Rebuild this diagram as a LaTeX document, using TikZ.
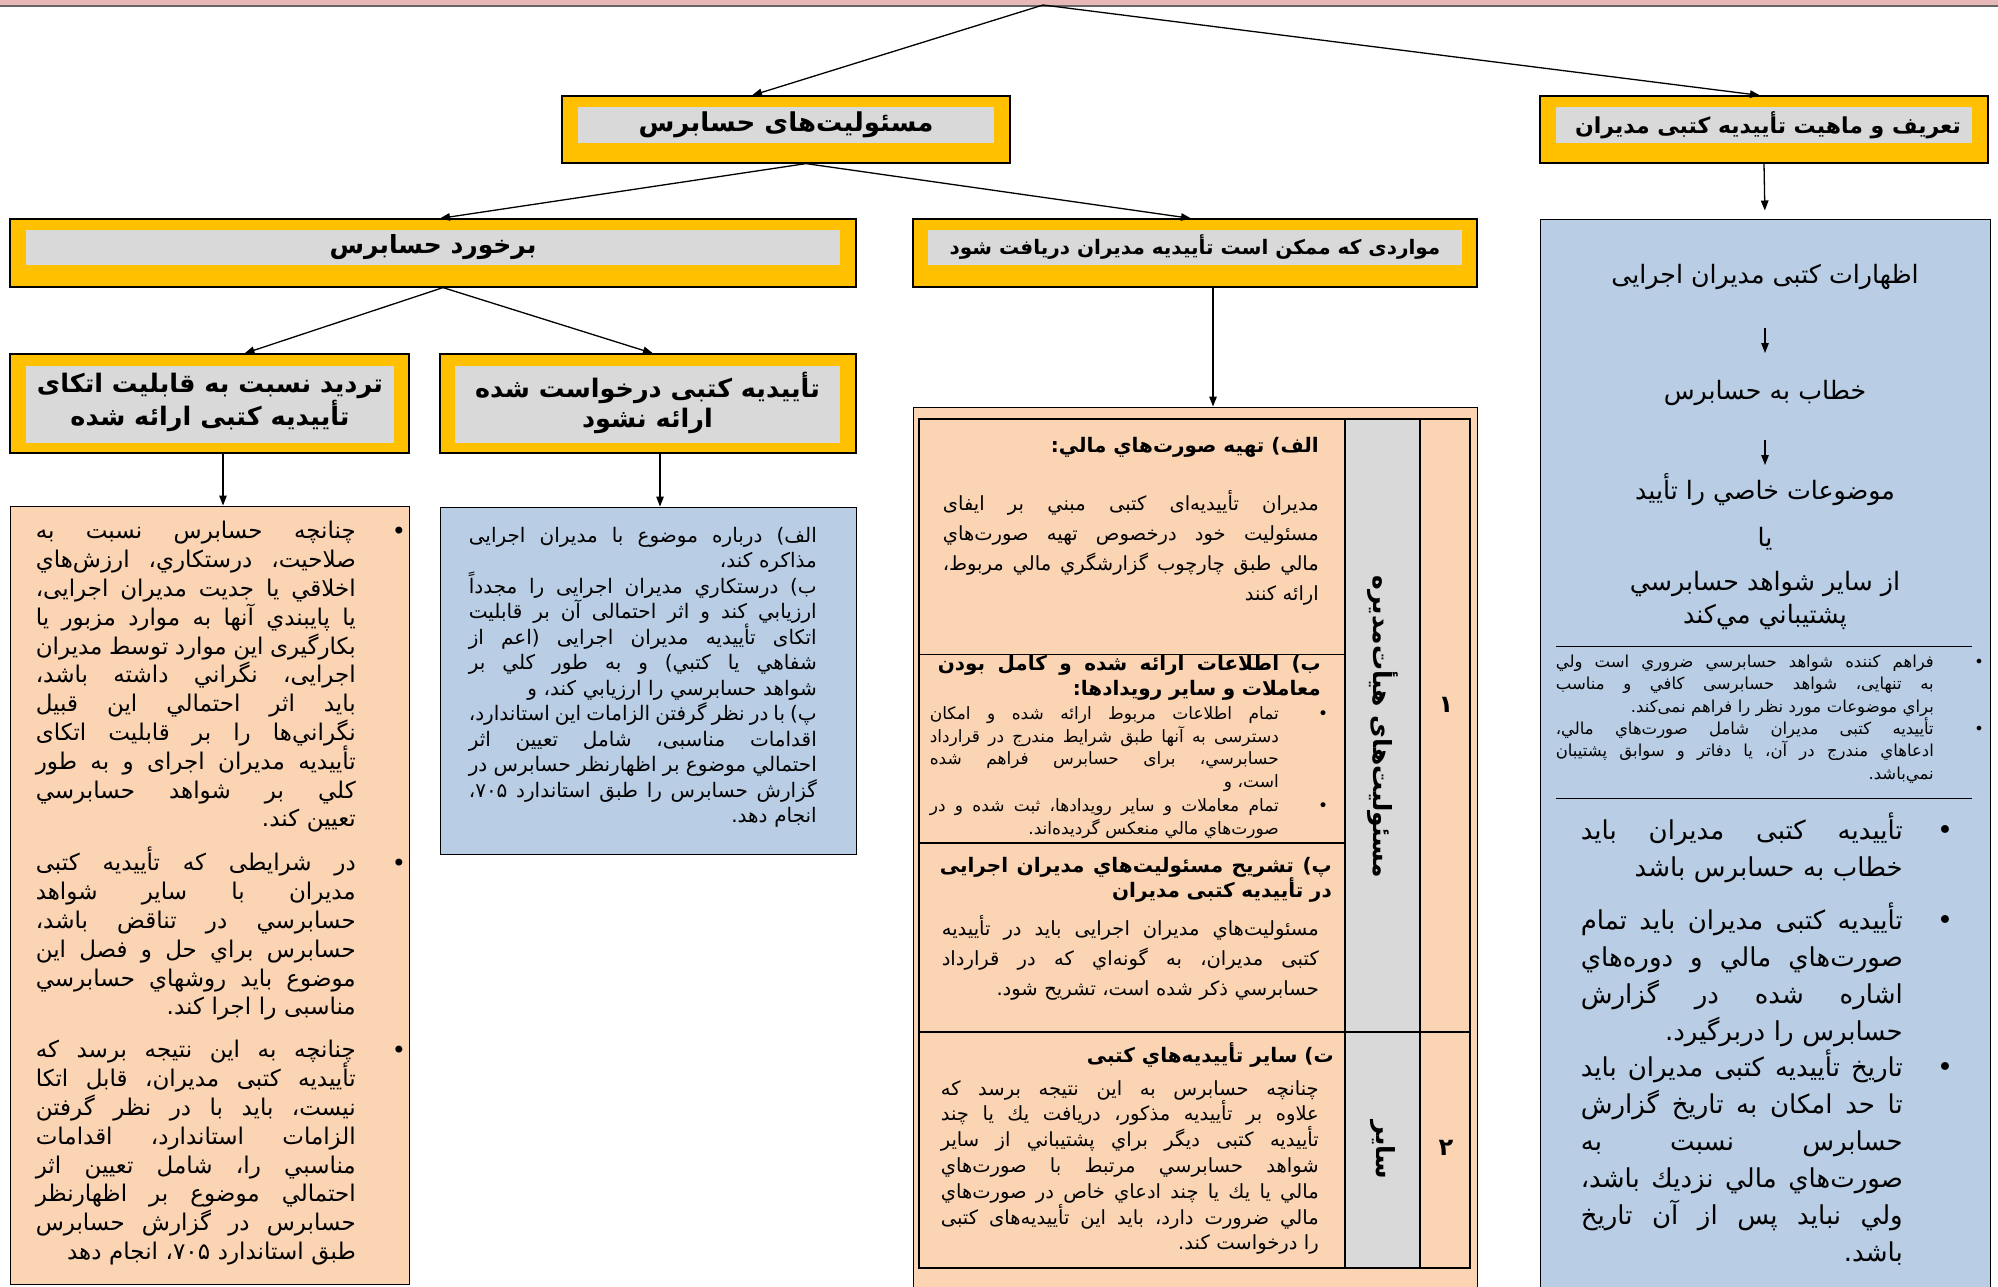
\documentclass[tikz,border=0pt]{standalone}
\usepackage{fontspec}
\setmainfont{DejaVu Sans}
\newfontfamily\fa[Script=Arabic]{DejaVu Sans}
\TeXXeTstate=1
\usetikzlibrary{arrows.meta}
\definecolor{yel}{HTML}{FFC000}
\definecolor{gry}{HTML}{D9D9D9}
\definecolor{blu}{HTML}{B9CDE5}
\definecolor{pch}{HTML}{FBD4B4}
\definecolor{pnk}{HTML}{E6B9B8}
\newcommand\R[1]{\beginR#1\endR}
\newcommand\JL[1]{\hbox to\hsize{\rule{0pt}{1.05em}\spaceskip=0.318em plus 6em minus 0.16em\relax\beginR#1\endR}}
\newcommand\LL[1]{\hbox to\hsize{\rule{0pt}{1.05em}\hfill\beginR#1\endR}}
\newcommand\PS{\lineskiplimit=-100pt\lineskip=0pt\hbadness=10000\hfuzz=100pt}
\newcommand\fs[2]{\fontsize{#1}{#2}\selectfont}
\newcommand\PB[1]{\vbox{\PS#1}}
\tikzset{
 ybox/.style={draw=black, line width=1.2pt, fill=yel, inner sep=0pt},
 gbox/.style={fill=gry, inner sep=0pt, draw=none},
 ttl/.style={inner sep=0pt, align=center},
 arr/.style={-{Triangle[length=10pt,width=7.5pt]}, line width=1.3pt},
 para/.style={inner sep=0pt, anchor=north east, text width=#1},
 pbox/.style={draw=black, line width=1pt, fill=pch, inner sep=0pt},
 bbox/.style={draw=black, line width=1pt, fill=blu, inner sep=0pt},
 bul/.style={inner sep=0pt, font=\fa\fs{24}{26}},
 tline/.style={line width=1.1pt, draw=black},
}
\begin{document}
\begin{tikzpicture}[x=1pt,y=-1pt]
\useasboundingbox (0,0) rectangle (1998,1286);
\fill[white] (0,0) rectangle (1998,1286);
% top bar
\fill[pnk] (0,0) rectangle (1998,6);
\draw[line width=1.5pt, black!60] (0,6) -- (1998,6);
\coordinate (top) at (1043,5);

% title boxes
\node[ybox, minimum width=448pt, minimum height=67pt] (b1) at (786,129.5) {};
\node[gbox, minimum width=416pt, minimum height=36pt] (b1i) at (786,125) {};
\node[ttl, font=\fa\bfseries\fs{26}{30}] (b1t) at (b1i) {\R{مسئولیت‌های حسابرس}};

\node[ybox, minimum width=448pt, minimum height=67pt] (b2) at (1764,129.5) {};
\node[gbox, minimum width=416pt, minimum height=36pt] (b2i) at (1764,125) {};
\node[ttl, font=\fa\bfseries\fs{22}{26}] (b2t) at ([xshift=4pt]b2i.center) {\R{تعریف و ماهیت تأییدیه کتبی مدیران}};

\node[ybox, minimum width=846pt, minimum height=68pt] (b3) at (433,253) {};
\node[gbox, minimum width=814pt, minimum height=35pt] (b3i) at (433,247.5) {};
\node[ttl, font=\fa\bfseries\fs{25}{29}] (b3t) at (b3i) {\R{برخورد حسابرس}};

\node[ybox, minimum width=564pt, minimum height=68pt] (b4) at (1195,253) {};
\node[gbox, minimum width=534pt, minimum height=35pt] (b4i) at (1195,247.5) {};
\node[ttl, font=\fa\bfseries\fs{20}{24}] (b4t) at (b4i) {\R{مواردی که ممکن است تأییدیه مدیران دریافت شود}};

\node[ybox, minimum width=399pt, minimum height=99pt] (b5) at (209.5,403.5) {};
\node[gbox, minimum width=368pt, minimum height=77pt] (b5i) at (210,404.5) {};
\node[ttl, font=\fa\bfseries\fs{25.5}{30}] (b5t) at ([yshift=2pt]b5i.center) {\R{تردید نسبت به قابلیت اتکای}\\\R{تأییدیه کتبی ارائه شده}};

\node[ybox, minimum width=416pt, minimum height=99pt] (b6) at (648,403.5) {};
\node[gbox, minimum width=385pt, minimum height=77pt] (b6i) at (647.5,404.5) {};
\node[ttl, font=\fa\bfseries\fs{25.5}{30}] (b6t) at ([yshift=2pt]b6i.center) {\R{تأییدیه کتبی درخواست شده}\\\R{ارائه نشود}};

% content containers
\node[pbox, minimum width=399pt, minimum height=778pt] (lp) at (209.5,895) {};
\node[bbox, minimum width=416pt, minimum height=347pt] (mb) at (648,680.5) {};
\node[pbox, minimum width=564pt, minimum height=893pt] (mt) at (1195,853.5) {};
\node[bbox, minimum width=450pt, minimum height=1075pt] (rb) at (1765,756.5) {};

% connectors
\draw[arr] (top) -- ([xshift=-34pt]b1.north);
\draw[arr] (top) -- ([xshift=-4pt]b2.north);
\draw[arr] ([xshift=20pt]b1.south) -- ([xshift=7pt]b3.north);
\draw[arr] ([xshift=20pt]b1.south) -- ([xshift=-4pt]b4.north);
\draw[arr] ([xshift=10pt]b3.south) -- ([xshift=35pt]b5.north);
\draw[arr] ([xshift=10pt]b3.south) -- ([xshift=5pt]b6.north);
\draw[arr, shorten >=8pt] (b2.south) -- (rb.north);
\draw[arr] ([xshift=13.5pt]b5.south) -- ([xshift=13.5pt]lp.north);
\draw[arr] ([xshift=12pt]b6.south) -- ([xshift=12pt]mb.north);
\draw[arr] ([xshift=18pt]b4.south) -- ([xshift=18pt]mt.north);

% left peach text
\node[bul] (lb1) at (399,533) {•};
\node[para=320pt, font=\fa\fs{23}{28.8}] (lt1) at (356,514.6) {\PB{\JL{چنانچه حسابرس نسبت به}\JL{صلاحیت، درستکاري، ارزش‌هاي}\JL{اخلاقي يا جدیت مدیران اجرایی،}\JL{يا پایبندي آنها به موارد مزبور يا}\JL{بکارگیری این موارد توسط مدیران}\JL{اجرایی، نگراني داشته باشد،}\JL{باید اثر احتمالي این قبیل}\JL{نگراني‌ها را بر قابلیت اتکای}\JL{تأییدیه مدیران اجرای و به طور}\JL{کلي بر شواهد حسابرسي}\LL{تعیین کند.}}};
\node[bul] (lb2) at (399,865) {•};
\node[para=320pt, font=\fa\fs{23}{28.8}] (lt2) at (356,846.6) {\PB{\JL{در شرایطی که تأییدیه کتبی}\JL{مدیران با سایر شواهد}\JL{حسابرسي در تناقض باشد،}\JL{حسابرس براي حل و فصل این}\JL{موضوع باید روشهاي حسابرسي}\LL{مناسبی را اجرا کند.}}};
\node[bul] (lb3) at (399,1052) {•};
\node[para=320pt, font=\fa\fs{23}{28.8}] (lt3) at (356,1033.6) {\PB{\JL{چنانچه به این نتیجه برسد که}\JL{تأییدیه کتبی مدیران، قابل اتکا}\JL{نیست، باید با در نظر گرفتن}\JL{الزامات استاندارد، اقدامات}\JL{مناسبي را، شامل تعیین اثر}\JL{احتمالي موضوع بر اظهارنظر}\JL{حسابرس در گزارش حسابرس}\LL{طبق استاندارد ۷۰۵، انجام دهد}}};

% middle blue text
\node[para=348pt, font=\fa\fs{20}{25.5}] (mbt) at (817,521) {\PB{\JL{الف) درباره موضوع با مدیران اجرایی}\LL{مذاکره کند،}\JL{ب) درستکاري مدیران اجرایی را مجدداً}\JL{ارزيابي کند و اثر احتمالی آن بر قابلیت}\JL{اتکای تأییدیه مدیران اجرایی (اعم از}\JL{شفاهي يا کتبي) و به طور کلي بر}\LL{شواهد حسابرسي را ارزيابي کند، و}\JL{پ) با در نظر گرفتن الزامات این استاندارد،}\JL{اقدامات مناسبی، شامل تعیین اثر}\JL{احتمالي موضوع بر اظهارنظر حسابرس در}\JL{گزارش حسابرس را طبق استاندارد ۷۰۵،}\LL{انجام دهد.}}};

% middle table
\fill[pch] (919,419) rectangle (1470,1268);
\fill[gry] (1345,419) rectangle (1420,1268);
\draw[tline] (919,419) rectangle (1470,1268);
\draw[tline] (1345,419) -- (1345,1268);
\draw[tline] (1420,419) -- (1420,1268);
\draw[tline] (919,1032) -- (1470,1032);
\draw[line width=0.8pt] (919,654) -- (1345,654);
\draw[tline] (919,843) -- (1345,843);

\node[inner sep=0pt, anchor=east, font=\fa\bfseries\fs{20}{24}] (h1) at (1319,447) {\R{الف) تهیه صورت‌هاي مالي:}};
\node[para=376pt, font=\fa\fs{19.5}{30}] (t1) at (1319,489.4) {\PB{\JL{مدیران تأییدیه‌ای کتبی مبني بر ایفای}\JL{مسئولیت خود درخصوص تهیه صورت‌هاي}\JL{مالي طبق چارچوب گزارشگري مالي مربوط،}\LL{ارائه کنند}}};

\begin{scope}
\clip (919,654.5) rectangle (1345,843);
\node[para=383pt, font=\fa\bfseries\fs{20}{25}] (h2) at (1321,649) {\PB{\JL{ب) اطلاعات ارائه شده و کامل بودن}\LL{معاملات و سایر رویدادها:}}};
\end{scope}
\node[bul, font=\fa\fs{17}{18}] (tb1) at (1323,715) {•};
\node[para=349pt, font=\fa\fs{17}{22.7}] (t2a) at (1279,701.4) {\PB{\JL{تمام اطلاعات مربوط ارائه شده و امکان}\JL{دسترسی به آنها طبق شرایط مندرج در قرارداد}\JL{حسابرسي، برای حسابرس فراهم شده}\LL{است،  و}}};
\node[bul, font=\fa\fs{17}{18}] (tb2) at (1323,807) {•};
\node[para=349pt, font=\fa\fs{17}{22.7}] (t2b) at (1279,793.4) {\PB{\JL{تمام معاملات و سایر رویدادها، ثبت شده و در}\LL{صورت‌هاي مالي منعکس گردیده‌اند.}}};

\node[para=392pt, font=\fa\bfseries\fs{20}{25}] (h3) at (1332,851) {\PB{\JL{پ) تشریح مسئولیت‌هاي مدیران اجرایی}\LL{در تأییدیه کتبی مدیران}}};
\node[para=377pt, font=\fa\fs{19.5}{30}] (t3) at (1319,914.4) {\PB{\JL{مسئولیت‌هاي مدیران اجرایی باید در تأییدیه}\JL{کتبی مدیران، به گونه‌اي که در قرارداد}\LL{حسابرسي ذکر شده است، تشریح شود.}}};

\node[inner sep=0pt, anchor=east, font=\fa\bfseries\fs{20}{24}] (h4) at (1334,1055) {\R{ت) سایر تأییدیه‌هاي کتبی}};
\node[para=378pt, font=\fa\fs{19.5}{25.8}] (t4) at (1319,1074.4) {\PB{\JL{چنانچه حسابرس به این نتیجه برسد که}\JL{علاوه بر تأییدیه مذکور، دریافت يك يا چند}\JL{تأییدیه کتبی دیگر براي پشتیباني از سایر}\JL{شواهد حسابرسي مرتبط با صورت‌هاي}\JL{مالي يا يك يا چند ادعاي خاص در صورت‌هاي}\JL{مالي ضرورت دارد، باید این تأییدیه‌های کتبی}\LL{را درخواست کند.}}};

\node[rotate=-90, inner sep=0pt, font=\fa\bfseries\fs{25}{28}] (v1) at (1383,727) {\R{مسئولیت‌های هیأت‌مدیره}};
\node[rotate=-90, inner sep=0pt, font=\fa\bfseries\fs{25}{28}] (v2) at (1383,1150) {\R{سایر}};
\node[inner sep=0pt, font=\fa\bfseries\fs{24}{28}] (n1) at (1446,705) {۱};
\node[inner sep=0pt, font=\fa\bfseries\fs{24}{28}] (n2) at (1446,1148) {۲};

% right blue content
\node[inner sep=0pt, font=\fa\fs{25.3}{30}] (r1) at (1765,277) {\R{اظهارات کتبی مدیران اجرایی}};
\coordinate (ra1) at (1765,328);
\coordinate (ra2) at (1765,353);
\draw[arr, line width=1.2pt] (ra1) -- (ra2);
\node[inner sep=0pt, font=\fa\fs{25.3}{30}] (r2) at (1765,393) {\R{خطاب به حسابرس}};
\coordinate (ra3) at (1765,440);
\coordinate (ra4) at (1765,465);
\draw[arr, line width=1.2pt] (ra3) -- (ra4);
\node[inner sep=0pt, font=\fa\fs{25.3}{30}] (r3) at (1765,490) {\R{موضوعات خاصي را تأييد}};
\node[inner sep=0pt, font=\fa\fs{25.3}{30}] (r4) at (1765,539) {\R{يا}};
\node[inner sep=0pt, align=center, font=\fa\fs{25.3}{33}] (r5) at (1765,600) {\R{از سایر شواهد حسابرسي}\\\R{پشتيباني مي‌کند}};
\coordinate (hl1a) at (1556,646);
\coordinate (hl1b) at (1972,646);
\draw[line width=1pt] (hl1a) -- (hl1b);
\node[bul, font=\fa\fs{16}{18}] (rs1) at (1979,663) {•};
\node[para=378pt, font=\fa\fs{16.5}{22.5}] (rst1) at (1934,649.8) {\PB{\JL{فراهم کننده شواهد حسابرسي ضروري است ولي}\JL{به تنهایی، شواهد حسابرسی کافي و مناسب}\LL{براي موضوعات مورد نظر را فراهم نمی‌کند.}}};
\node[bul, font=\fa\fs{16}{18}] (rs2) at (1979,730) {•};
\node[para=378pt, font=\fa\fs{16.5}{22.5}] (rst2) at (1934,716.8) {\PB{\JL{تأییدیه کتبی مدیران شامل صورت‌هاي مالي،}\JL{ادعاهاي مندرج در آن، يا دفاتر و سوابق پشتیبان}\LL{نمي‌باشد.}}};
\coordinate (hl2a) at (1556,798);
\coordinate (hl2b) at (1972,798);
\draw[line width=1pt] (hl2a) -- (hl2b);
\node[bul, font=\fa\fs{27}{28}] (rb1) at (1945,833) {•};
\node[para=322pt, font=\fa\fs{26}{37}] (rbt1) at (1903,812.2) {\PB{\JL{تأییدیه کتبی مدیران باید}\LL{خطاب به حسابرس باشد}}};
\node[bul, font=\fa\fs{27}{28}] (rb2) at (1945,923) {•};
\node[para=322pt, font=\fa\fs{26}{37}] (rbt2) at (1903,902.2) {\PB{\JL{تأییدیه کتبی مدیران باید تمام}\JL{صورت‌هاي مالي و دوره‌هاي}\JL{اشاره شده در گزارش}\LL{حسابرس را دربرگیرد.}}};
\node[bul, font=\fa\fs{27}{28}] (rb3) at (1945,1070) {•};
\node[para=322pt, font=\fa\fs{26}{37}] (rbt3) at (1903,1049.2) {\PB{\JL{تاریخ تأییدیه کتبی مدیران باید}\JL{تا حد امکان به تاریخ گزارش}\JL{حسابرس نسبت به}\JL{صورت‌هاي مالي نزديك باشد،}\JL{ولي نباید پس از آن تاریخ}\LL{باشد.}}};
\end{tikzpicture}
\end{document}
